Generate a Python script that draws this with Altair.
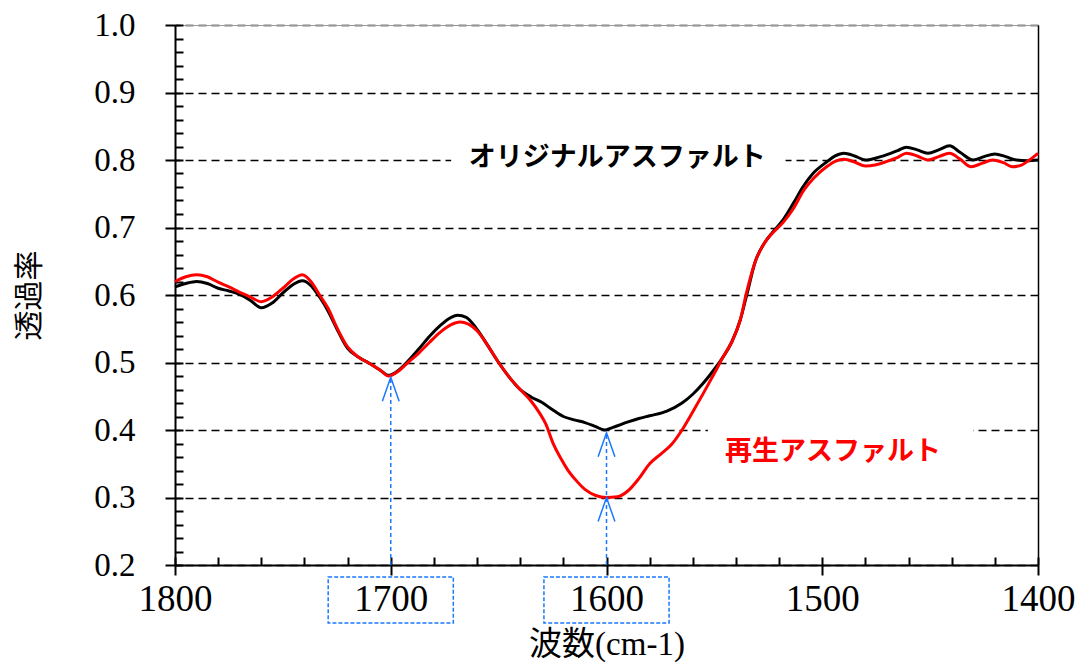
import altair as alt
import pandas as pd

# ---------------- data ----------------
wn_orig = [1800, 1795, 1790, 1785, 1780, 1775, 1770, 1765, 1760, 1755, 1750, 1745, 1741, 1737,
           1733, 1729, 1725, 1720, 1715, 1710, 1705, 1701, 1697, 1692, 1687, 1682, 1677, 1672,
           1669, 1665, 1660, 1655, 1650, 1645, 1640, 1635, 1630, 1625, 1620, 1615, 1610, 1605,
           1601, 1597, 1590, 1585, 1580, 1572, 1565, 1560, 1555, 1550, 1546, 1542, 1538, 1535,
           1531, 1527, 1523, 1518, 1513, 1509, 1504, 1498, 1494, 1490, 1485, 1480, 1475, 1470,
           1465, 1461, 1456, 1451, 1446, 1441, 1436, 1430, 1425, 1420, 1415, 1410, 1405, 1400]
t_orig = [0.612, 0.617, 0.620, 0.617, 0.610, 0.606, 0.601, 0.592, 0.581, 0.588, 0.603, 0.616, 0.621, 0.614,
          0.597, 0.576, 0.550, 0.521, 0.508, 0.499, 0.489, 0.481, 0.487, 0.502, 0.520, 0.539, 0.555, 0.567,
          0.570, 0.567, 0.549, 0.525, 0.500, 0.478, 0.460, 0.449, 0.441, 0.430, 0.420, 0.415, 0.411, 0.405,
          0.400, 0.404, 0.412, 0.417, 0.421, 0.428, 0.440, 0.453, 0.470, 0.490, 0.508, 0.530, 0.563, 0.600,
          0.650, 0.676, 0.693, 0.712, 0.738, 0.760, 0.781, 0.797, 0.806, 0.810, 0.806, 0.800, 0.803, 0.808,
          0.814, 0.819, 0.815, 0.810, 0.815, 0.821, 0.811, 0.800, 0.805, 0.809, 0.805, 0.800, 0.799, 0.800]

wn_rec = [1800, 1795, 1790, 1785, 1780, 1775, 1770, 1765, 1760, 1755, 1750, 1745, 1741, 1737,
          1733, 1729, 1725, 1720, 1715, 1710, 1705, 1701, 1697, 1692, 1687, 1682, 1677, 1672,
          1668, 1664, 1660, 1655, 1650, 1645, 1640, 1635, 1631, 1628, 1625, 1621, 1618, 1614,
          1610, 1605, 1600, 1595, 1590, 1585, 1580, 1575, 1570, 1565, 1560, 1555, 1550,
          1546, 1542, 1538, 1535, 1531, 1527, 1523, 1518, 1513, 1509, 1504, 1498, 1494, 1490,
          1485, 1480, 1475, 1470, 1465, 1461, 1456, 1451, 1446, 1441, 1436, 1431, 1426, 1421,
          1416, 1412, 1408, 1404, 1400]
t_rec = [0.620, 0.627, 0.630, 0.627, 0.619, 0.612, 0.604, 0.597, 0.590, 0.597, 0.610, 0.624, 0.630, 0.620,
         0.600, 0.580, 0.552, 0.523, 0.508, 0.499, 0.489, 0.480, 0.486, 0.500, 0.514, 0.530, 0.545, 0.556,
         0.560, 0.557, 0.547, 0.525, 0.500, 0.478, 0.460, 0.443, 0.425, 0.408, 0.382, 0.357, 0.341, 0.325,
         0.312, 0.303, 0.300, 0.301, 0.310, 0.328, 0.350, 0.364, 0.378, 0.400, 0.427, 0.455, 0.484,
         0.508, 0.530, 0.563, 0.605, 0.650, 0.676, 0.692, 0.708, 0.730, 0.753, 0.773, 0.790, 0.798, 0.801,
         0.797, 0.791, 0.793, 0.798, 0.804, 0.810, 0.806, 0.800, 0.805, 0.810, 0.801, 0.790, 0.795, 0.800,
         0.796, 0.790, 0.792, 0.800, 0.810]

x_major = [1800, 1700, 1600, 1500, 1400]
y_major = [0.2, 0.3, 0.4, 0.5, 0.6, 0.7, 0.8, 0.9, 1.0]
x_minor = list(range(1800, 1399, -20))
y_minor = [round(0.2 + 0.02 * i, 2) for i in range(41)]

# annotation arrows (peak positions)
arrow_wn = [1700, 1600, 1600]
arrow_tip = [0.478, 0.396, 0.300]
guide_wn = [1700, 1600]
guide_top = [0.478, 0.396]
boxed_ticks = [1700, 1600]

label_text = ["オリジナルアスファルト", "再生アスファルト"]
label_wn = [1595, 1495]
label_t = [0.803, 0.367]
label_color = ["#000000", "#ff0000"]

# ---------------- styling ----------------
BLUE = "#1a78ff"
SERIF = "Liberation Serif, Noto Sans CJK JP"
CJK = "Noto Sans CJK JP"
W, H = 863, 540

xs = alt.Scale(domain=[1400, 1800], reverse=True, nice=False, zero=False)
ys = alt.Scale(domain=[0.2, 1.0], nice=False, zero=False)

df_o = pd.DataFrame({"wn": wn_orig, "t": t_orig})
df_r = pd.DataFrame({"wn": wn_rec, "t": t_rec})
df_arrow = pd.DataFrame({"wn": arrow_wn, "t": arrow_tip})
df_guide = pd.DataFrame({"wn": guide_wn, "top": guide_top, "bottom": [0.2] * len(guide_wn)})
BOX_HALF = 29
df_box = pd.DataFrame({"left": [v + BOX_HALF for v in boxed_ticks], "right": [v - BOX_HALF for v in boxed_ticks]})
df_lab = pd.DataFrame({"text": label_text, "wn": label_wn, "t": label_t, "color": label_color})
df_mask = pd.DataFrame({"x1": [1672, 1553], "x2": [1517, 1430], "y1": [0.78, 0.378], "y2": [0.826, 0.422]})

main_x_axis = alt.Axis(values=x_major, format="d", labelFont="Liberation Serif", labelFontSize=37,
                       labelColor="black", labelPadding=6, tickSize=10, tickWidth=2, tickColor="black",
                       domainColor="black", domainWidth=2, grid=False, labelFlush=False,
                       title="波数(cm-1)", titleFont=SERIF, titleFontSize=33, titleFontWeight="normal",
                       titleColor="black", titleY=89, titleBaseline="alphabetic")
main_y_axis = alt.Axis(values=y_major, format=".1f", labelFont="Liberation Serif", labelFontSize=33,
                       labelColor="black", labelPadding=30, tickSize=10, tickWidth=2, tickColor="black",
                       domainColor="black", domainWidth=2, grid=True, gridColor="black", gridWidth=1.5,
                       gridDash=[8, 5], labelFlush=False,
                       title="透過率", titleFont=CJK, titleFontSize=30, titleFontWeight="normal",
                       titleColor="black", titleX=-146, titleY=H / 2, titleAngle=270,
                       titleAlign="center", titleBaseline="middle")
minor_x_axis = alt.Axis(values=x_minor, labels=False, domain=False, grid=False, offset=-8,
                        tickSize=8, tickWidth=2, tickColor="black", title=None, orient="bottom")
minor_y_axis = alt.Axis(values=y_minor, labels=False, domain=False, grid=False, offset=-8,
                        tickSize=8, tickWidth=2, tickColor="black", title=None, orient="left")
right_axis = alt.Axis(orient="right", labels=False, ticks=False, grid=False, domain=True,
                      domainColor="black", domainWidth=1.5, title=None)
top_axis = alt.Axis(orient="top", labels=False, ticks=False, grid=False, domain=True,
                    domainColor="#999999", domainWidth=1, title=None)

masks = alt.Chart(df_mask).mark_rect(color="white").encode(
    x=alt.X("x1:Q", scale=xs, axis=None), x2="x2:Q",
    y=alt.Y("y1:Q", scale=ys, axis=None), y2="y2:Q")

line_o = alt.Chart(df_o).mark_line(color="black", strokeWidth=3, interpolate="monotone").encode(
    x=alt.X("wn:Q", scale=xs, axis=main_x_axis),
    y=alt.Y("t:Q", scale=ys, axis=main_y_axis))

line_r = alt.Chart(df_r).mark_line(color="#ff0000", strokeWidth=3, interpolate="monotone").encode(
    x=alt.X("wn:Q", scale=xs, axis=minor_x_axis),
    y=alt.Y("t:Q", scale=ys, axis=minor_y_axis))

guides = alt.Chart(df_guide).mark_rule(color=BLUE, strokeWidth=1.5, strokeDash=[4, 3]).encode(
    x=alt.X("wn:Q", scale=xs, axis=None),
    y=alt.Y("bottom:Q", scale=ys, axis=right_axis), y2="top:Q")

arrows = alt.Chart(df_arrow).mark_point(shape="M-0.35,1L0,0L0.35,1", filled=False, size=2304,
                                        strokeWidth=1.5, color=BLUE, opacity=1).encode(
    x=alt.X("wn:Q", scale=xs, axis=top_axis),
    y=alt.Y("t:Q", scale=ys, axis=None))

boxes = alt.Chart(df_box).mark_rect(fillOpacity=0, stroke=BLUE, strokeWidth=1.5, strokeDash=[4, 2]).encode(
    x=alt.X("left:Q", scale=xs, axis=None), x2="right:Q",
    y=alt.value(552), y2=alt.value(598))

labels = alt.Chart(df_lab).mark_text(font=CJK, fontSize=27, fontWeight="bold", align="center",
                                     baseline="middle").encode(
    x=alt.X("wn:Q", scale=xs, axis=None),
    y=alt.Y("t:Q", scale=ys, axis=None),
    text="text:N",
    color=alt.Color("color:N", scale=None))

chart = alt.layer(masks, line_o, line_r, guides, arrows, boxes, labels).resolve_axis(
    x="independent", y="independent"
).properties(
    width=W, height=H,
    autosize=alt.AutoSizeParams(type="none"),
    padding={"left": 167, "top": 17, "right": 39, "bottom": 98},
    background="white",
).configure_view(stroke=None)

chart.save("out.html", embed_options={"renderer": "svg", "actions": False})
